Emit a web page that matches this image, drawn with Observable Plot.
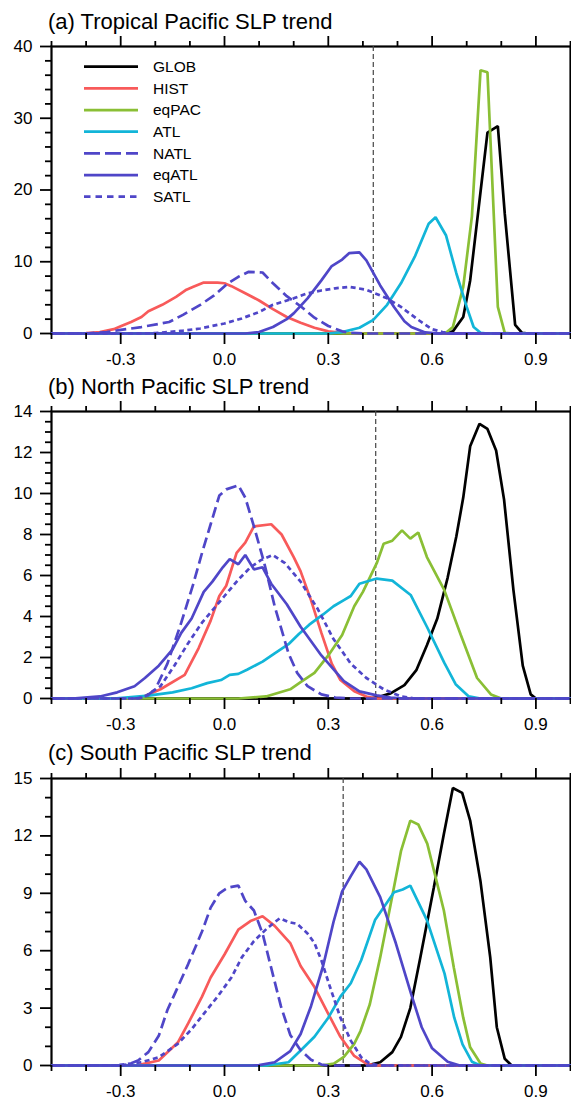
<!DOCTYPE html>
<html><head><meta charset="utf-8">
<script src="https://cdn.jsdelivr.net/npm/d3@7"></script>
<script src="https://cdn.jsdelivr.net/npm/@observablehq/plot@0.6"></script>
<style>
html,body{margin:0;padding:0;background:#fff;overflow:hidden}
#wrap{position:relative;width:571px;height:1099px;font-family:"Liberation Sans",Arial,Helvetica,sans-serif;color:#000}
.title{position:absolute;left:48px;font-size:22px;line-height:22px;white-space:nowrap}
.panel{position:absolute;left:0}
</style></head><body><div id="wrap"></div>
<script>
// ---- series definitions ----
const SERIES = ["GLOB", "HIST", "eqPAC", "ATL", "NATL", "eqATL", "SATL"];
const COLORS = ["#000000", "#f85a5a", "#8abf35", "#12b5d8", "#4f46c8", "#4f46c8", "#4f46c8"];
const TITLES = ["(a) Tropical Pacific SLP trend", "(b) North Pacific SLP trend", "(c) South Pacific SLP trend"];
const X_TICKS = [-0.3, 0.0, 0.3, 0.6, 0.9];
const X_MINOR = [-0.5, -0.4, -0.2, -0.1, 0.1, 0.2, 0.4, 0.5, 0.7, 0.8, 1.0];
const Y_TICKS_A = [0, 10, 20, 30, 40];
const Y_TICKS_B = [0, 2, 4, 6, 8, 10, 12, 14];
const Y_TICKS_C = [0, 3, 6, 9, 12, 15];
const REF_LINES = [0.43, 0.437, 0.343];

// ---- panel (a) Tropical Pacific: [trend, density] ----
const A_GLOB = [[0.64,0],[0.66,0.3],[0.69,2.3],[0.71,7.4],[0.735,17.7],[0.76,28.0],[0.79,28.9],[0.81,16.7],[0.84,1.2],[0.86,0.1],[0.88,0]];
const A_HIST = [[-0.46,0],[-0.40,0.05],[-0.36,0.2],[-0.32,0.6],[-0.30,1.0],[-0.27,1.6],[-0.24,2.3],[-0.22,3.1],[-0.18,4.0],[-0.14,5.1],[-0.11,6.1],[-0.09,6.5],[-0.06,7.1],[-0.02,7.1],[0.0,7.0],[0.02,6.6],[0.06,5.6],[0.10,4.6],[0.14,3.4],[0.18,2.3],[0.22,1.5],[0.26,0.8],[0.30,0.3],[0.34,0.1],[0.38,0]];
const A_EQPAC = [[0.62,0],[0.64,0.1],[0.66,0.9],[0.69,6.5],[0.715,16.3],[0.74,36.7],[0.76,36.4],[0.79,3.7],[0.81,0.1],[0.83,0]];
const A_ATL = [[0.30,0],[0.34,0.2],[0.39,0.8],[0.43,1.9],[0.47,4.0],[0.51,7.0],[0.55,10.7],[0.59,15.3],[0.61,16.2],[0.64,13.7],[0.67,8.4],[0.70,3.7],[0.72,0.9],[0.74,0.1],[0.76,0]];
const A_NATL = [[-0.40,0],[-0.34,0.2],[-0.30,0.5],[-0.24,0.9],[-0.16,1.6],[-0.12,2.6],[-0.07,4.0],[-0.03,5.3],[0.01,7.0],[0.04,7.9],[0.07,8.6],[0.11,8.5],[0.14,7.0],[0.18,5.2],[0.22,3.8],[0.26,2.2],[0.30,1.05],[0.34,0.3],[0.36,0.1],[0.40,0]];
const A_EQATL = [[0.06,0],[0.10,0.2],[0.14,0.9],[0.18,2.0],[0.20,2.8],[0.24,4.9],[0.28,7.4],[0.31,9.4],[0.34,10.3],[0.36,11.2],[0.39,11.3],[0.41,10.2],[0.45,6.7],[0.49,3.7],[0.52,1.7],[0.54,0.9],[0.58,0.15],[0.62,0]];
const A_SATL = [[-0.26,0],[-0.20,0.05],[-0.12,0.4],[-0.07,0.7],[0.0,1.4],[0.05,2.1],[0.10,3.0],[0.14,4.0],[0.20,4.9],[0.24,5.6],[0.28,6.0],[0.32,6.3],[0.36,6.5],[0.41,6.1],[0.47,4.9],[0.51,3.7],[0.56,1.9],[0.60,0.6],[0.63,0.2],[0.66,0]];

// ---- panel (b) North Pacific ----
const B_GLOB = [[0.42,0],[0.45,0.1],[0.48,0.25],[0.52,0.65],[0.555,1.4],[0.585,2.6],[0.615,3.9],[0.645,5.9],[0.67,7.9],[0.69,9.8],[0.71,12.3],[0.737,13.4],[0.76,13.15],[0.785,12.1],[0.808,9.7],[0.835,5.3],[0.862,1.6],[0.885,0.2],[0.90,0]];
const B_HIST = [[-0.26,0],[-0.24,0.05],[-0.185,0.45],[-0.115,1.15],[-0.075,2.45],[-0.04,3.8],[-0.015,5.0],[0.005,5.5],[0.035,7.1],[0.06,7.6],[0.085,8.4],[0.135,8.5],[0.165,8.0],[0.20,6.9],[0.22,6.2],[0.25,4.8],[0.28,3.2],[0.31,1.7],[0.335,0.9],[0.375,0.35],[0.41,0.1],[0.44,0]];
const B_EQPAC = [[0.04,0],[0.12,0.1],[0.19,0.45],[0.22,0.8],[0.26,1.25],[0.30,2.1],[0.34,3.1],[0.375,4.5],[0.40,5.2],[0.44,6.6],[0.46,7.55],[0.485,7.7],[0.513,8.2],[0.537,7.8],[0.56,8.1],[0.585,6.9],[0.635,5.3],[0.683,3.1],[0.73,1.0],[0.77,0.2],[0.80,0]];
const B_ATL = [[-0.32,0],[-0.22,0.14],[-0.15,0.3],[-0.095,0.5],[-0.05,0.75],[-0.01,0.9],[0.015,1.15],[0.04,1.2],[0.065,1.4],[0.11,1.8],[0.145,2.2],[0.185,2.65],[0.215,3.15],[0.245,3.6],[0.285,4.1],[0.315,4.5],[0.345,4.8],[0.365,5.0],[0.39,5.6],[0.44,5.85],[0.485,5.75],[0.538,5.05],[0.585,3.5],[0.635,1.75],[0.668,0.7],[0.706,0.1],[0.74,0]];
const B_NATL = [[-0.26,0],[-0.23,0.05],[-0.20,0.45],[-0.165,1.7],[-0.125,3.7],[-0.09,5.6],[-0.065,7.1],[-0.04,8.5],[-0.015,9.9],[0.005,10.2],[0.04,10.4],[0.06,9.8],[0.085,8.4],[0.115,6.6],[0.145,4.5],[0.185,2.2],[0.21,1.25],[0.24,0.6],[0.28,0.2],[0.32,0.05],[0.36,0]];
const B_EQATL = [[-0.44,0],[-0.36,0.1],[-0.31,0.3],[-0.26,0.6],[-0.23,1.0],[-0.19,1.6],[-0.15,2.4],[-0.125,3.2],[-0.095,3.9],[-0.06,5.2],[-0.035,5.7],[-0.005,6.4],[0.015,6.8],[0.04,6.55],[0.06,7.0],[0.085,6.3],[0.11,6.4],[0.135,5.6],[0.18,4.6],[0.22,3.5],[0.28,2.1],[0.345,0.85],[0.39,0.35],[0.44,0.15],[0.48,0.05],[0.52,0]];
const B_SATL = [[-0.25,0],[-0.23,0.1],[-0.185,0.6],[-0.145,1.6],[-0.105,2.7],[-0.065,3.7],[-0.04,4.2],[0.0,5.0],[0.04,5.8],[0.075,6.4],[0.105,6.75],[0.14,7.0],[0.175,6.6],[0.22,5.7],[0.27,4.35],[0.315,2.9],[0.365,1.7],[0.41,1.0],[0.46,0.45],[0.51,0.1],[0.55,0]];

// ---- panel (c) South Pacific ----
const C_GLOB = [[0.41,0],[0.45,0.17],[0.485,0.7],[0.51,1.5],[0.537,3.0],[0.566,5.65],[0.605,9.3],[0.634,12.1],[0.66,14.5],[0.687,14.25],[0.71,12.8],[0.74,9.6],[0.768,5.65],[0.787,2.0],[0.81,0.35],[0.83,0]];
const C_HIST = [[-0.28,0],[-0.25,0.02],[-0.19,0.26],[-0.135,1.2],[-0.105,2.2],[-0.065,3.6],[-0.04,4.6],[0.0,5.8],[0.04,7.1],[0.075,7.55],[0.11,7.8],[0.145,7.3],[0.19,6.4],[0.22,5.2],[0.26,4.1],[0.30,2.7],[0.335,1.5],[0.375,0.5],[0.41,0.1],[0.44,0]];
const C_EQPAC = [[0.28,0],[0.316,0.1],[0.345,0.45],[0.374,1.1],[0.393,1.8],[0.42,3.2],[0.45,5.65],[0.48,8.4],[0.51,11.2],[0.537,12.8],[0.56,12.6],[0.586,11.6],[0.634,8.1],[0.663,5.1],[0.69,2.5],[0.71,0.95],[0.74,0.1],[0.76,0]];
const C_ATL = [[0.12,0],[0.185,0.17],[0.22,0.78],[0.26,1.5],[0.30,2.5],[0.335,3.6],[0.365,4.3],[0.395,5.5],[0.435,7.6],[0.49,9.05],[0.515,9.2],[0.537,9.4],[0.585,7.6],[0.636,4.8],[0.664,2.5],[0.688,1.1],[0.715,0.2],[0.74,0]];
const C_NATL = [[-0.30,0],[-0.28,0.05],[-0.25,0.26],[-0.22,0.7],[-0.19,1.55],[-0.165,2.9],[-0.135,4.1],[-0.105,5.3],[-0.065,7.0],[-0.04,8.25],[-0.015,9.0],[0.01,9.3],[0.04,9.4],[0.06,8.6],[0.085,8.1],[0.11,6.9],[0.135,5.1],[0.163,3.1],[0.19,1.6],[0.22,0.8],[0.25,0.3],[0.28,0.05],[0.30,0]];
const C_EQATL = [[0.08,0],[0.10,0.02],[0.145,0.17],[0.19,0.75],[0.22,1.65],[0.25,3.1],[0.285,5.2],[0.315,7.5],[0.34,9.1],[0.365,9.9],[0.39,10.65],[0.41,10.25],[0.45,8.8],[0.495,6.4],[0.54,3.7],[0.57,2.0],[0.60,0.9],[0.645,0.2],[0.68,0]];
const C_SATL = [[-0.32,0],[-0.24,0.17],[-0.19,0.43],[-0.135,1.13],[-0.095,1.9],[-0.06,2.7],[-0.02,3.6],[0.02,4.6],[0.05,5.65],[0.085,6.5],[0.125,7.2],[0.16,7.7],[0.185,7.5],[0.21,7.4],[0.24,6.9],[0.26,6.4],[0.28,5.5],[0.305,4.1],[0.335,2.5],[0.365,1.3],[0.395,0.43],[0.42,0.1],[0.45,0]];

const X_DOMAIN = [-0.5, 1.0];
const PANELS = [
  {title: TITLES[0], data: [A_GLOB, A_HIST, A_EQPAC, A_ATL, A_NATL, A_EQATL, A_SATL], yDomain: [0, 40], yTicks: Y_TICKS_A, yMinorStep: 2, ref: REF_LINES[0]},
  {title: TITLES[1], data: [B_GLOB, B_HIST, B_EQPAC, B_ATL, B_NATL, B_EQATL, B_SATL], yDomain: [0, 14], yTicks: Y_TICKS_B, yMinorStep: 0.5, ref: REF_LINES[1]},
  {title: TITLES[2], data: [C_GLOB, C_HIST, C_EQPAC, C_ATL, C_NATL, C_EQATL, C_SATL], yDomain: [0, 15], yTicks: Y_TICKS_C, yMinorStep: 1, ref: REF_LINES[2]}
];

// ---- layout (styling only) ----
const FONT = '"Liberation Sans", Arial, Helvetica, sans-serif';
const LINE_DASH = [null, null, null, null, "11,5", null, "5,3.5"];
const LEGEND_DASH = [null, null, null, null, "16,5", null, "6.5,5"];
const FRAME_TOPS = [46, 411, 778];
const TITLE_TOPS = [10.5, 375.5, 741.5];
const MT = 14, PH = 287, MB = 32;

const wrap = document.getElementById("wrap");

PANELS.forEach((p, k) => {
  const t = document.createElement("div");
  t.className = "title";
  t.style.top = TITLE_TOPS[k] + "px";
  t.textContent = p.title;
  wrap.appendChild(t);

  const minor = d3.range(p.yDomain[0], p.yDomain[1] + 1e-9, p.yMinorStep)
    .filter(v => !p.yTicks.some(t => Math.abs(t - v) < 1e-9));

  const lineMarks = SERIES.map((s, i) => {
    const pts = [[X_DOMAIN[0], 0], ...p.data[i], [X_DOMAIN[1], 0]].map(([x, y]) => ({series: s, x, y}));
    return Plot.line(pts, {
      x: "x", y: "y", stroke: COLORS[i], strokeWidth: 2.7,
      strokeDasharray: LINE_DASH[i] || undefined,
      strokeLinecap: LINE_DASH[i] ? "butt" : "round",
      strokeLinejoin: "miter"
    });
  });

  const chart = Plot.plot({
    width: 571, height: MT + PH + MB,
    marginLeft: 51, marginRight: 1, marginTop: MT, marginBottom: MB,
    x: {domain: X_DOMAIN, label: null},
    y: {domain: p.yDomain, label: null},
    style: {fontFamily: FONT, fontSize: "17px", color: "black", background: "transparent", overflow: "visible"},
    marks: [
      Plot.frame({stroke: "black", strokeWidth: 2.2}),
      Plot.ruleX([p.ref], {stroke: "#444", strokeWidth: 1.2, strokeDasharray: "5,3"}),
      ...lineMarks,
      Plot.axisX({anchor: "bottom", ticks: X_TICKS, tickSize: 11, tickPadding: 8, strokeWidth: 1.8, fontSize: 17, tickFormat: d => d.toFixed(1), label: null}),
      Plot.axisX({anchor: "bottom", ticks: X_MINOR, tickSize: 6, strokeWidth: 1.8, fill: "none", label: null}),
      Plot.axisX({anchor: "top", ticks: X_TICKS, tickSize: 11, strokeWidth: 1.8, fill: "none", label: null}),
      Plot.axisX({anchor: "top", ticks: X_MINOR, tickSize: 6, strokeWidth: 1.8, fill: "none", label: null}),
      Plot.axisY({anchor: "left", ticks: p.yTicks, tickSize: 11, tickPadding: 8, strokeWidth: 1.8, fontSize: 17, tickFormat: d => String(d), label: null}),
      Plot.axisY({anchor: "left", ticks: minor, tickSize: 6, strokeWidth: 1.8, fill: "none", label: null})
    ]
  });
  chart.classList.add("panel");
  chart.style.top = (FRAME_TOPS[k] - MT) + "px";
  wrap.appendChild(chart);
});

// ---- legend in panel (a) ----
const leg = d3.select(wrap).append("svg")
  .attr("width", 571).attr("height", 220)
  .style("position", "absolute").style("left", "0px").style("top", "0px")
  .style("font-family", FONT);
SERIES.forEach((s, i) => {
  const y = 66.7 + i * 21.67;
  leg.append("line").attr("x1", 84).attr("x2", 138).attr("y1", y).attr("y2", y)
    .attr("stroke", COLORS[i]).attr("stroke-width", 2.8)
    .attr("stroke-linecap", "butt")
    .attr("stroke-dasharray", LEGEND_DASH[i]);
  leg.append("text").attr("x", 153).attr("y", y).attr("dy", "0.35em")
    .attr("font-size", 15.5).attr("fill", "black").text(s);
});
</script>
</body></html>
